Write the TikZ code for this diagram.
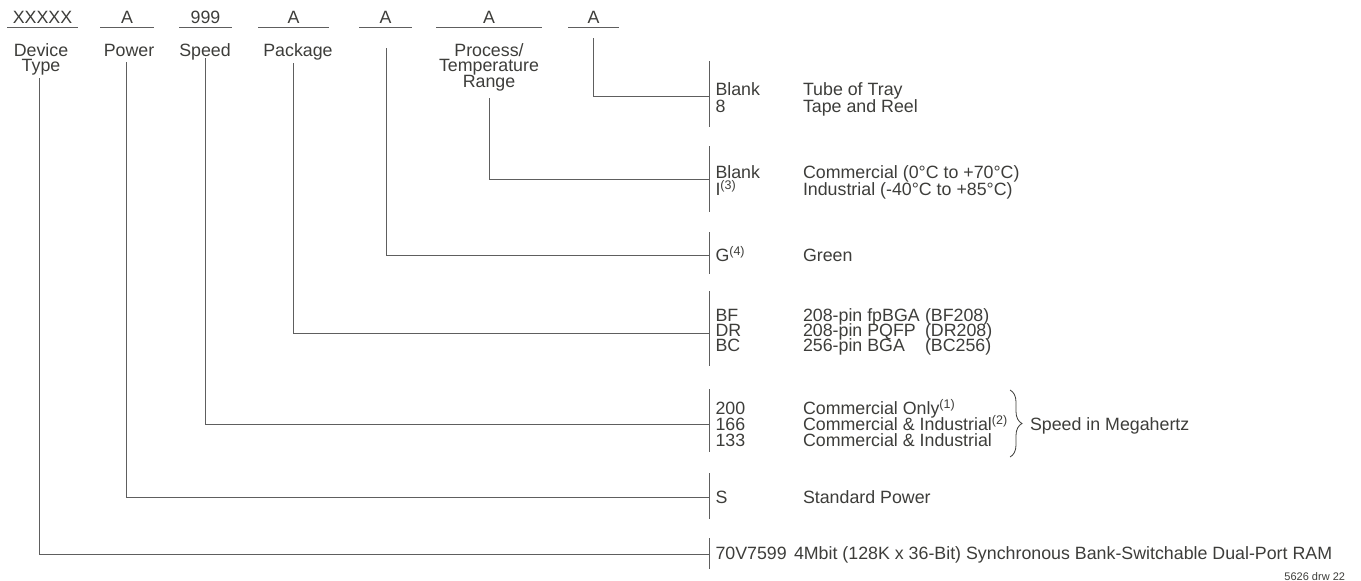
\documentclass[tikz,border=0pt]{standalone}
\usepackage{fontspec}
\setmainfont{Liberation Sans}
\usetikzlibrary{decorations.pathreplacing}
\definecolor{txt}{HTML}{3D3D3A}
\definecolor{ln}{HTML}{5E5E5E}
\newcommand\mainsz{\fontsize{17.8}{18}\selectfont}
\newcommand\fnref[1]{\raisebox{6pt}{\fontsize{12.5}{12.5}\selectfont(#1)}}
\begin{document}
\begin{tikzpicture}[x=1pt,y=-1pt,
  every node/.style={inner sep=0pt,outer sep=0pt,text=txt,font=\mainsz},
  lbl/.style={anchor=base},
  code/.style={anchor=base west},
  conn/.style={draw=ln,line width=1pt},
  uline/.style={draw=ln,line width=1pt},
  bar/.style={draw=ln,line width=1pt}]
\useasboundingbox (0,0) rectangle (1361,581);

% field row
\foreach \x/\a/\b/\t [count=\i] in {42.5/7/78/XXXXX, 127/100/154/A, 205.5/179/232/999, 293.5/258/329/A, 385.5/359/412/A, 489/436/542/A, 593.5/568/619/A}{
  \node[lbl] (f\i) at (\x,23) {\t};
  \draw[uline] (\a,27) -- (\b,27);
}

% field labels
\node[lbl] (devA) at (41,56) {Device};
\node[lbl] (devB) at (41,71) {Type};
\node[lbl] (pow) at (129,56) {Power};
\node[lbl] (spd) at (205,56) {Speed};
\node[lbl] (pkg) at (298,56) {Package};
\node[lbl] (prA) at (489,56) {Process/};
\node[lbl] (prB) at (489,71.5) {Temperature};
\node[lbl] (prC) at (489,87) {Range};

% connector start and end points
\coordinate (s1) at (39,78);   \coordinate (e1) at (709,554);
\coordinate (s2) at (126,62);  \coordinate (e2) at (709,497);
\coordinate (s3) at (205,58);  \coordinate (e3) at (709,424);
\coordinate (s4) at (293,63);  \coordinate (e4) at (709,333);
\coordinate (s5) at (386,48);  \coordinate (e5) at (709,255);
\coordinate (s6) at (489,98);  \coordinate (e6) at (709,179);
\coordinate (s7) at (593,38);  \coordinate (e7) at (709,96);
\foreach \i in {1,...,7}{\draw[conn] (s\i) |- (e\i);}

% bars
\draw[bar] (709,538) -- (709,569);
\draw[bar] (709,473) -- (709,519);
\draw[bar] (709,389) -- (709,452);
\draw[bar] (709,291) -- (709,366);
\draw[bar] (709,232) -- (709,274);
\draw[bar] (709,146) -- (709,212);
\draw[bar] (709,61) -- (709,127);

% tray
\node[code] (c71) at (715.5,95) {Blank};
\node[code] (c72) at (715.5,112) {8};
\node[code] (d71) at (803,95) {Tube of Tray};
\node[code] (d72) at (803,112) {Tape and Reel};
% temperature
\node[code] (c61) at (715.5,178) {Blank};
\node[code] (c62) at (715.5,195) {I\fnref{3}};
\node[code] (d61) at (803,178) {Commercial (0°C to +70°C)};
\node[code] (d62) at (803,195) {Industrial (-40°C to +85°C)};
% green
\node[code] (c51) at (715.5,261.5) {G\fnref{4}};
\node[code] (d51) at (803,261.5) {Green};
% package
\node[code] (c41) at (715.5,321.5) {BF};
\node[code] (c42) at (715.5,336.5) {DR};
\node[code] (c43) at (715.5,351.5) {BC};
\node[code] (d41) at (803,321.5) {208-pin fpBGA};
\node[code] (d42) at (803,336.5) {208-pin PQFP};
\node[code] (d43) at (803,351.5) {256-pin BGA};
\node[code] (p41) at (925,321.5) {(BF208)};
\node[code] (p42) at (925,336.5) {(DR208)};
\node[code] (p43) at (925,351.5) {(BC256)};
% speed
\node[code] (c31) at (715.5,414) {200};
\node[code] (c32) at (715.5,430) {166};
\node[code] (c33) at (715.5,446) {133};
\node[code] (d31) at (803,414) {Commercial Only\fnref{1}};
\node[code] (d32) at (803,430) {Commercial \& Industrial\fnref{2}};
\node[code] (d33) at (803,446) {Commercial \& Industrial};
\coordinate (bt) at (1010,390);
\coordinate (bb) at (1010,457);
\draw[draw=txt,line width=0.8pt,decorate,decoration={brace,amplitude=12pt}] (bt) -- (bb);
\node[code] (mhz) at (1030,430.5) {Speed in Megahertz};
% power
\node[code] (c21) at (715.5,503) {S};
\node[code] (d21) at (803,503) {Standard Power};
% device
\node[code] (c11) at (715.5,559) {70V7599};
\node[code] (d11) at (794,559) {4Mbit (128K x 36-Bit) Synchronous Bank-Switchable Dual-Port RAM};
\node[anchor=base east,font=\fontsize{11}{11}\selectfont] (drw) at (1345,580) {5626 drw 22};
\end{tikzpicture}
\end{document}
